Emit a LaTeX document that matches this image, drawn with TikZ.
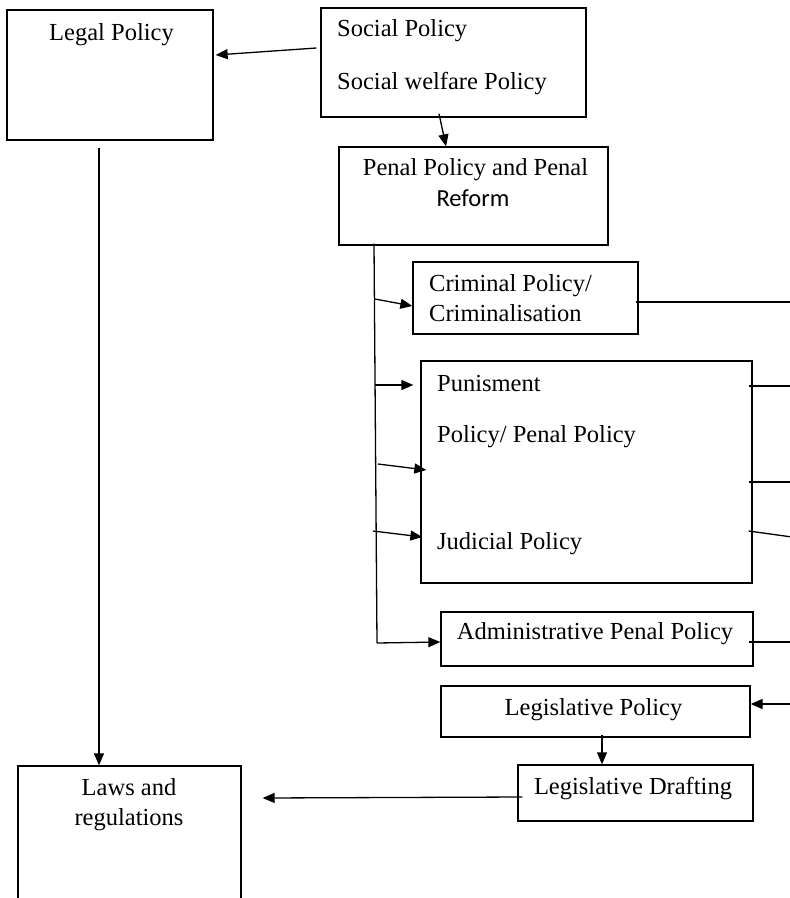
\documentclass[tikz,border=0pt]{standalone}
\usepackage{fontspec}
\setmainfont{Liberation Serif}
\newfontfamily\calfont{Carlito}
\usetikzlibrary{arrows.meta}

\tikzset{
  box/.style={draw, line width=1.3pt, inner sep=0pt, rectangle},
  lbl/.style={inner sep=0pt, font=\fontsize{24.5}{29}\selectfont},
  lblw/.style={lbl, anchor=base west},
  lblc/.style={lbl, anchor=base},
  link/.style={line width=1.3pt},
  arr/.style={link, -{Triangle[length=12pt,width=10pt]}}
}

\begin{document}
\begin{tikzpicture}[x=1pt,y=-1pt]
\useasboundingbox (0,0) rectangle (790,898);
\clip (0,0) rectangle (790,898);

% boxes
\node[box, minimum width=206pt, minimum height=130pt] (legal)  at (110,75)    {};
\node[box, minimum width=265pt, minimum height=109pt] (social) at (453.5,62.5) {};
\node[box, minimum width=269pt, minimum height=98pt]  (penal)  at (473.5,196) {};
\node[box, minimum width=225pt, minimum height=72pt]  (crim)   at (525.5,298) {};
\node[box, minimum width=331pt, minimum height=222pt] (pun)    at (586.5,472) {};
\node[box, minimum width=312pt, minimum height=54pt]  (admin)  at (597,639)   {};
\node[box, minimum width=309pt, minimum height=51pt]  (legpol) at (595.5,711.5) {};
\node[box, minimum width=235pt, minimum height=56pt]  (draft)  at (635.5,793) {};
\node[box, minimum width=223pt, minimum height=144pt] (laws)   at (129.5,838) {};

% labels
\node[lblc] (tLegal)   at (111.5,40)  {Legal Policy};
\node[lblw] (tSoc1)    at (337,36)    {Social Policy};
\node[lblw] (tSoc2)    at (337,89)    {Social welfare Policy};
\node[lblc] (tPen1)    at (475.5,175) {Penal Policy and Penal};
\node[lblc, font=\calfont\fontsize{24.5}{29}\selectfont] (tPen2) at (473,206) {Reform};
\node[lblw] (tCrim1)   at (429,291)   {Criminal Policy/};
\node[lblw] (tCrim2)   at (429,321)   {Criminalisation};
\node[lblw] (tPun1)    at (437,391)   {Punisment};
\node[lblw] (tPun2)    at (437,442)   {Policy/ Penal Policy};
\node[lblw] (tPun3)    at (437,549)   {Judicial Policy};
\node[lblc] (tAdmin)   at (595,639)   {Administrative Penal Policy};
\node[lblc] (tLegPol)  at (593.5,715) {Legislative Policy};
\node[lblc] (tDraft)   at (633,794)   {Legislative Drafting};
\node[lblc] (tLaws1)   at (129,795)   {Laws and};
\node[lblc] (tLaws2)   at (129,825)   {regulations};

% top connectors
\draw[arr] ([shift={(-4,-14.5)}]social.west) -- ([shift={(2,-20)}]legal.east);
\draw[arr] ([shift={(-14.5,-4)}]social.south) -- ([shift={(-27.5,0)}]penal.north);
\draw[arr] ([shift={(-11,7)}]legal.south) -- ([shift={(-30.5,0)}]laws.north);

% branching spine below the penal policy box
\coordinate (spT) at ([shift={(-99.5,-2)}]penal.south);
\coordinate (spB) at (377,643);
\draw[link] (spT) -- (spB);
\coordinate (b1) at (375,299);
\coordinate (b2) at (375,385);
\coordinate (b3) at (378,464);
\coordinate (b4) at (373,531);
\draw[arr] (b1) -- ([shift={(0,8)}]crim.west);
\draw[arr] (b2) -- ([shift={(-7,-87)}]pun.west);
\draw[arr] (b3) -- ([shift={(6,-2)}]pun.west);
\draw[arr] (b4) -- ([shift={(2,65)}]pun.west);
\draw[arr] (spB) -- ([shift={(0,3)}]admin.west);

% lines leaving to the right
\coordinate (r1) at (792,302);
\coordinate (r2) at (792,386);
\coordinate (r3) at (792,482);
\coordinate (r4) at (792,537);
\coordinate (r5) at (792,642);
\coordinate (r6) at (792,704);
\draw[link] ([shift={(-3,4)}]crim.east) -- (r1);
\draw[link] ([shift={(-4,-86)}]pun.east) -- (r2);
\draw[link] ([shift={(-4,10)}]pun.east) -- (r3);
\draw[link] ([shift={(-4,59)}]pun.east) -- (r4);
\draw[link] ([shift={(-5,3)}]admin.east) -- (r5);
\draw[arr] (r6) -- ([shift={(0,-7.5)}]legpol.east);

% bottom connectors
\draw[arr] ([shift={(6.5,-3)}]legpol.south) -- ([shift={(-33.5,0)}]draft.north);
\draw[arr] ([shift={(5,4)}]draft.west) -- ([shift={(21,-40)}]laws.east);
\end{tikzpicture}
\end{document}
